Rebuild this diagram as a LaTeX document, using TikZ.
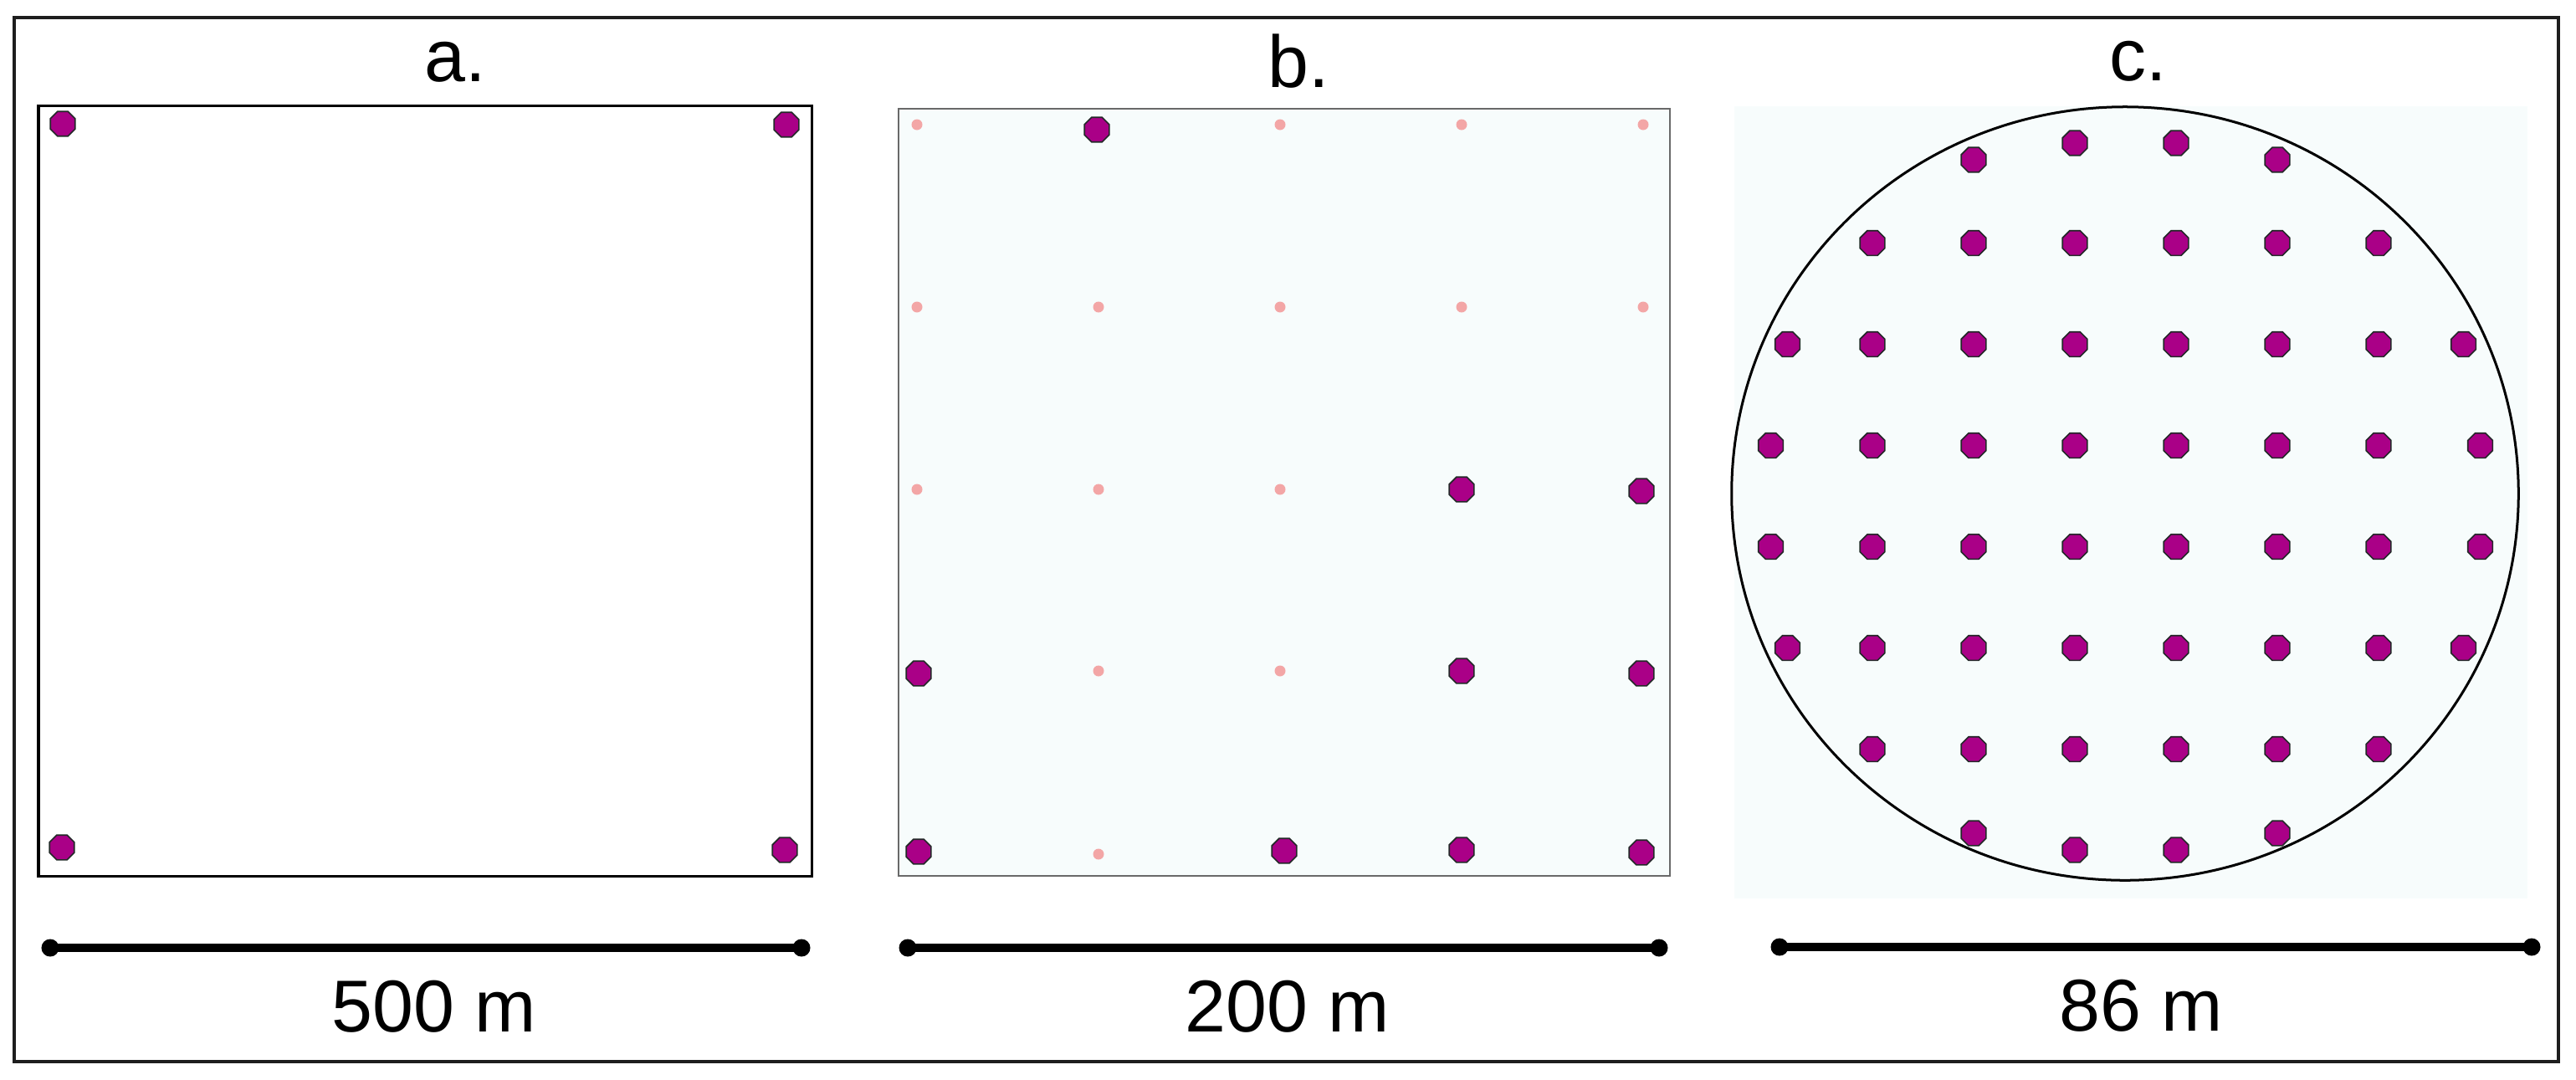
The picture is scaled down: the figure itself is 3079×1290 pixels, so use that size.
\documentclass[tikz,border=0pt]{standalone}
\usepackage{fontspec}
\setmainfont{Liberation Sans}
\usetikzlibrary{shapes.geometric}
\definecolor{dotfill}{RGB}{170,0,135}
\definecolor{dotline}{RGB}{35,40,40}
\definecolor{pinkdot}{RGB}{243,166,166}
\definecolor{panelbg}{RGB}{247,252,252}
\definecolor{boxgray}{RGB}{105,105,105}
\definecolor{framecol}{RGB}{30,30,30}
\begin{document}
\begin{tikzpicture}[x=0.01cm,y=-0.01cm,
  bigdot/.style={regular polygon, regular polygon sides=8, fill=dotfill, draw=dotline,
    line width=0.016cm, minimum size=0.32cm, inner sep=0pt},
  smalldot/.style={circle, fill=pinkdot, minimum size=0.13cm, inner sep=0pt},
  barend/.style={circle, fill=black, minimum size=0.21cm, inner sep=0pt},
  scalebar/.style={line width=0.1cm},
  lab/.style={font=\fontsize{25}{30}\selectfont, anchor=base, inner sep=0pt}]
\useasboundingbox (0,0) rectangle (3079,1290);
\fill[white] (0,0) rectangle (3079,1290);
% outer frame
\draw[framecol, line width=0.035cm] (17,21) rectangle (3058,1269);

% ---------- panel a ----------
\draw[black, line width=0.03cm] (46,126) rectangle (970,1047);
\node[bigdot] (a11) at (75,148) {};
\node[bigdot] (a12) at (940,149) {};
\node[bigdot] (a21) at (74,1013) {};
\node[bigdot] (a22) at (938,1016) {};
\node[lab] (ta) at (544,97) {a.};
\node[barend] (sa1) at (60,1133) {};
\node[barend] (sa2) at (958,1133) {};
\draw[scalebar] (sa1.center) -- (sa2.center);
\node[lab] (la) at (519,1233) {500 m};

% ---------- panel b ----------
\fill[panelbg] (1074,130) rectangle (1996,1047);
\draw[boxgray, line width=0.02cm] (1074,130) rectangle (1996,1047);
% small pink grid points
\node[smalldot] (b11) at (1096,149) {};
\node[smalldot] (b13) at (1530,149) {};
\node[smalldot] (b14) at (1747,149) {};
\node[smalldot] (b15) at (1964,149) {};
\node[smalldot] (b21) at (1096,367) {};
\node[smalldot] (b22) at (1313,367) {};
\node[smalldot] (b23) at (1530,367) {};
\node[smalldot] (b24) at (1747,367) {};
\node[smalldot] (b25) at (1964,367) {};
\node[smalldot] (b31) at (1096,585) {};
\node[smalldot] (b32) at (1313,585) {};
\node[smalldot] (b33) at (1530,585) {};
\node[smalldot] (b42) at (1313,802) {};
\node[smalldot] (b43) at (1530,802) {};
\node[smalldot] (b52) at (1313,1021) {};
% large sampled points
\node[bigdot] (B12) at (1311,155) {};
\node[bigdot] (B34) at (1747,585) {};
\node[bigdot] (B35) at (1962,587) {};
\node[bigdot] (B41) at (1098,805) {};
\node[bigdot] (B44) at (1747,802) {};
\node[bigdot] (B45) at (1962,805) {};
\node[bigdot] (B51) at (1098,1018) {};
\node[bigdot] (B53) at (1535,1017) {};
\node[bigdot] (B54) at (1747,1016) {};
\node[bigdot] (B55) at (1962,1019) {};
\node[lab] (tb) at (1552,104) {b.};
\node[barend] (sb1) at (1085,1133) {};
\node[barend] (sb2) at (1983,1133) {};
\draw[scalebar] (sb1.center) -- (sb2.center);
\node[lab] (lb) at (1539,1233) {200 m};

% ---------- panel c ----------
\fill[panelbg] (2073,127) rectangle (3021,1074);
\draw[black, line width=0.03cm] (2540,590) ellipse [x radius=4.70cm, y radius=4.62cm];
\foreach \px/\py [count=\i] in {2359/191, 2480/171, 2601/171, 2722/191,
  2238/290.5, 2359/290.5, 2480/290.5, 2601/290.5, 2722/290.5, 2843/290.5,
  2136.5/411.5, 2238/411.5, 2359/411.5, 2480/411.5, 2601/411.5, 2722/411.5, 2843/411.5, 2944.5/411.5,
  2116.5/532.5, 2238/532.5, 2359/532.5, 2480/532.5, 2601/532.5, 2722/532.5, 2843/532.5, 2964.5/532.5,
  2116.5/653.5, 2238/653.5, 2359/653.5, 2480/653.5, 2601/653.5, 2722/653.5, 2843/653.5, 2964.5/653.5,
  2136.5/774.5, 2238/774.5, 2359/774.5, 2480/774.5, 2601/774.5, 2722/774.5, 2843/774.5, 2944.5/774.5,
  2238/895.5, 2359/895.5, 2480/895.5, 2601/895.5, 2722/895.5, 2843/895.5,
  2359/996, 2480/1016, 2601/1016, 2722/996}
  \node[bigdot] (c\i) at (\px,\py) {};
\node[lab] (tc) at (2556,96) {c.};
\node[barend] (sc1) at (2127,1132) {};
\node[barend] (sc2) at (3026,1132) {};
\draw[scalebar] (sc1.center) -- (sc2.center);
\node[lab] (lc) at (2559,1232) {86 m};
\end{tikzpicture}
\end{document}
